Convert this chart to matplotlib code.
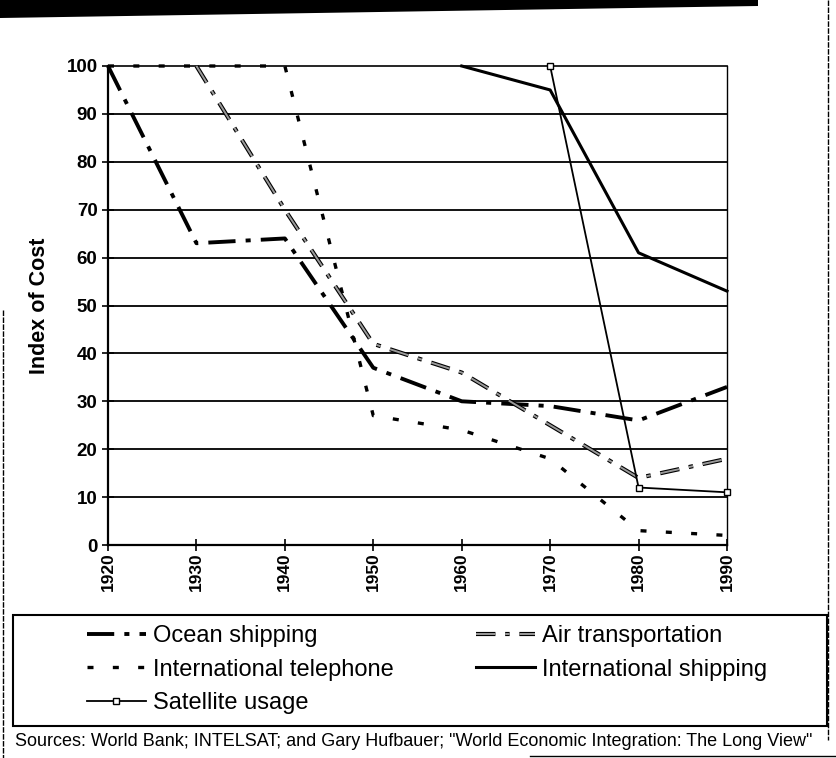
import matplotlib

matplotlib.use("Agg")
import matplotlib.pyplot as plt
import matplotlib.patheffects as pe
from matplotlib.lines import Line2D
from matplotlib.patches import Polygon, Rectangle

plt.rcParams["font.family"] = ["Liberation Sans", "DejaVu Sans"]

# --- data (index, first year = 100) ---
decades = [1920, 1930, 1940, 1950, 1960, 1970, 1980, 1990]

ocean_years = [1920, 1930, 1940, 1950, 1960, 1970, 1980, 1990]
ocean_cost = [100, 63, 64, 37, 30, 29, 26, 33]

phone_years = [1920, 1930, 1940, 1950, 1960, 1970, 1980, 1990]
phone_cost = [100, 100, 100, 27, 24, 18, 3, 2]

satellite_years = [1970, 1980, 1990]
satellite_cost = [100, 12, 11]

air_years = [1930, 1940, 1950, 1960, 1970, 1980, 1990]
air_cost = [100, 70, 42, 36, 25, 14, 18]

intl_ship_years = [1960, 1970, 1980, 1990]
intl_ship_cost = [100, 95, 61, 53]

y_ticks = [0, 10, 20, 30, 40, 50, 60, 70, 80, 90, 100]
grid_levels = [10, 20, 30, 40, 50, 60, 70, 80, 90]

SOURCE = ('Sources: World Bank; INTELSAT; and Gary Hufbauer; '
          '"World Economic Integration: The Long View"')

W, H = 836, 758


def fx(px):
    return px / W


def fy(py):
    return 1 - py / H


fig = plt.figure(figsize=(W / 100, H / 100), dpi=100)
ax = fig.add_axes([fx(108), fy(545), fx(727) - fx(108), fy(66) - fy(545)])

for level in grid_levels:
    ax.axhline(level, color="black", lw=1.3, zorder=1)

ocean, = ax.plot(ocean_years, ocean_cost, color="black", lw=2.8,
                 dashes=(7, 2.6, 1.3, 2.6), label="Ocean shipping",
                 clip_on=False, zorder=3)
phone, = ax.plot(phone_years, phone_cost, color="black", lw=2.4,
                 dashes=(1.8, 5.8), label="International telephone",
                 clip_on=False, zorder=3)
satellite, = ax.plot(satellite_years, satellite_cost, color="black", lw=1.3,
                     marker="s", ms=5, mfc="white", mec="black", mew=1,
                     label="Satellite usage", clip_on=False, zorder=4)
air, = ax.plot(air_years, air_cost, color="#9a9a9a", lw=1.4,
               dashes=(10, 5, 2.3, 5), label="Air transportation",
               clip_on=False, zorder=3,
               path_effects=[pe.Stroke(linewidth=3.0, foreground="black"),
                             pe.Normal()])
intl_ship, = ax.plot(intl_ship_years, intl_ship_cost, color="black", lw=2.2,
                     label="International shipping", clip_on=False, zorder=3)

ax.set_xlim(1920, 1990)
ax.set_ylim(0, 100)
ax.set_xticks(decades)
ax.set_yticks(y_ticks)
ax.tick_params(direction="inout", length=9, width=1.2, colors="black")
ax.tick_params(axis="y", labelsize=13.5, pad=3)
ax.tick_params(axis="x", labelsize=12.5, pad=1, labelrotation=90)
for lbl in ax.get_xticklabels() + ax.get_yticklabels():
    lbl.set_fontweight("bold")

ax.set_ylabel("Index of Cost", fontsize=15.5, fontweight="bold", labelpad=12)

ax.spines["left"].set_linewidth(1.6)
ax.spines["bottom"].set_linewidth(1.6)
ax.spines["top"].set_linewidth(1.2)
ax.spines["right"].set_linewidth(1.0)
ax.spines["right"].set_linestyle((0, (3, 1)))

# legend, column-major: first column three entries, second column two
handles = [ocean, phone, satellite, air, intl_ship]
fig.legend(handles, [h.get_label() for h in handles], ncol=2,
           loc="upper left", bbox_to_anchor=(fx(75), fy(613)),
           frameon=False, fontsize=17, handlelength=2.5,
           handletextpad=0.3, columnspacing=3.5, labelspacing=0.5,
           borderpad=0)
fig.patches.append(Rectangle((fx(13), fy(726)), fx(827) - fx(13),
                             fy(615) - fy(726), transform=fig.transFigure,
                             fill=False, edgecolor="black", lw=1.5))

fig.text(fx(15), fy(741), SOURCE, fontsize=13.0, va="center", ha="left")

# scan artefacts: black bar on top, page borders
fig.patches.append(Polygon([(fx(0), fy(0)), (fx(758), fy(0)),
                            (fx(758), fy(6)), (fx(0), fy(18))],
                           closed=True, transform=fig.transFigure,
                           facecolor="black", edgecolor="none"))
fig.lines.append(Line2D([fx(828), fx(828)], [fy(0), fy(740)],
                        transform=fig.transFigure, color="black", lw=1.0,
                        ls=(0, (4, 1))))
fig.lines.append(Line2D([fx(3), fx(3)], [fy(310), fy(758)],
                        transform=fig.transFigure, color="black", lw=1.0,
                        ls=(0, (4, 1))))
fig.lines.append(Line2D([fx(530), fx(836)], [fy(756), fy(756)],
                        transform=fig.transFigure, color="black", lw=1.0))

fig.savefig("out.png", dpi=100)
